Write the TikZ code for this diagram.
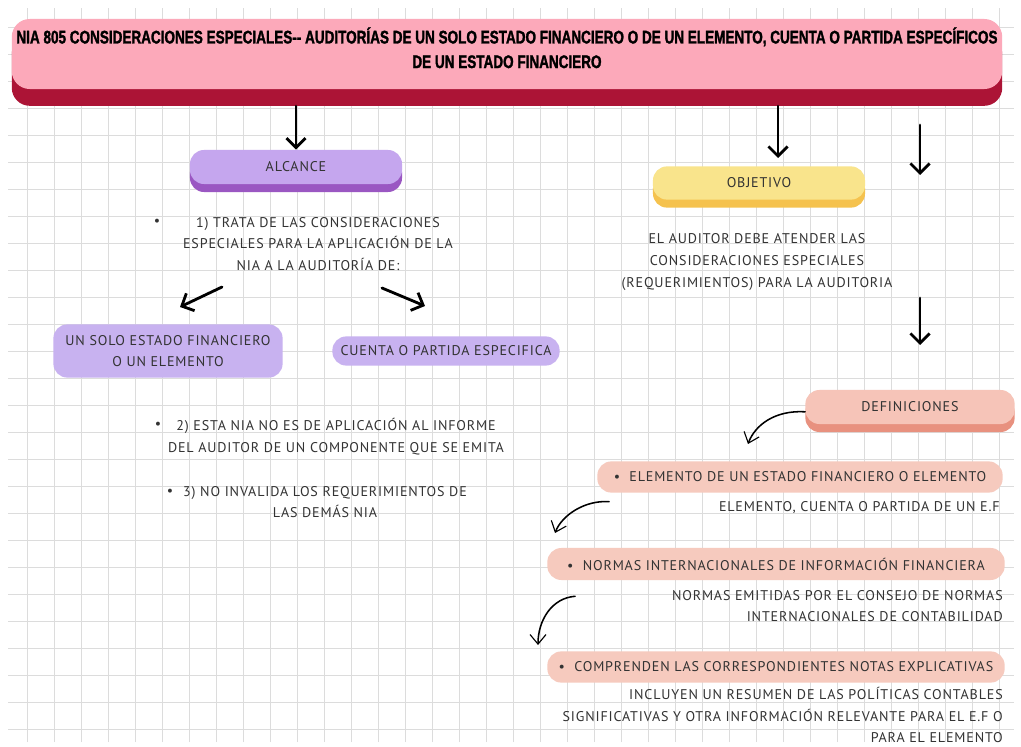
\documentclass[tikz,border=0pt]{standalone}
\usepackage{fontspec}
\setmainfont[LetterSpace=6]{PT Sans}
\newfontfamily\titlefont[FakeStretch=0.74,FakeBold=1.5]{Liberation Sans}
\usetikzlibrary{arrows.meta,shadows,positioning}

\definecolor{gridgray}{HTML}{DCDCDC}
\definecolor{titlepink}{HTML}{FCA9BA}
\definecolor{titlered}{HTML}{AC1436}
\definecolor{lilac}{HTML}{C5A6EE}
\definecolor{lilacdark}{HTML}{9A57C2}
\definecolor{lilaclight}{HTML}{C8B2F0}
\definecolor{sun}{HTML}{F9E48C}
\definecolor{sundark}{HTML}{F5C24E}
\definecolor{salmon}{HTML}{F6C4B8}
\definecolor{salmondark}{HTML}{E8917F}
\definecolor{peach}{HTML}{F6CABE}
\definecolor{ink}{HTML}{333333}

\tikzset{
  tag/.style={rounded corners=0.35cm, text=ink, inner sep=0pt, align=center,
    font=\fontsize{10}{15}\selectfont},
  headbox/.style 2 args={tag, fill=#1, general shadow={fill=#2, shadow yshift=-0.2cm}},
  plainbox/.style={tag, fill=#1},
  note/.style={text=ink, inner sep=0pt, font=\fontsize{10}{15.5}\selectfont},
  bigarrow/.style={line width=2pt, line cap=round, -{Straight Barb[length=2.4mm,width=4.8mm,line width=2pt]}},
  thinarrow/.style={line width=1.1pt, line cap=round, -{Straight Barb[length=2.4mm,width=4mm,line width=0.8pt]}}
}

\begin{document}
\begin{tikzpicture}[x=0.025cm, y=-0.025cm]
  % papel cuadriculado
  \fill[white] (0,0) rectangle (1021,747);
  \useasboundingbox (0,0) rectangle (1021,747);
  \draw[gridgray, line width=0.5pt, step=0.675cm] (8,8) grid (1014,742);

  % titulo
  \node[fill=titlepink, rounded corners=0.45cm, minimum width=24.65cm, minimum height=1.75cm,
        general shadow={fill=titlered, shadow yshift=-0.42cm}, align=center,
        font=\titlefont\bfseries\fontsize{13}{17.5}\selectfont] (title) at (507,54)
    {NIA 805 CONSIDERACIONES ESPECIALES-- AUDITORÍAS DE UN SOLO ESTADO FINANCIERO O DE UN ELEMENTO, CUENTA O PARTIDA ESPECÍFICOS\\
     DE UN ESTADO FINANCIERO\rule[-9pt]{0pt}{1pt}};

  % alcance
  \node[headbox={lilac}{lilacdark}, minimum width=5.3cm, minimum height=0.85cm] (alcance) at (296,167) {ALCANCE};
  \node[note, align=center] (alc1) at (318,244)
    {1) TRATA DE LAS CONSIDERACIONES\\ ESPECIALES PARA LA APLICACIÓN DE LA\\ NIA A LA AUDITORÍA DE:};
  \node[note] (bul1) at (157,222) {•};
  \node[plainbox=lilaclight, minimum width=5.73cm, minimum height=1.33cm] (uno) at (168,351)
    {UN SOLO ESTADO FINANCIERO\\ O UN ELEMENTO};
  \node[plainbox=lilaclight, minimum width=5.68cm, minimum height=0.73cm] (cuenta) at (446,351)
    {CUENTA O PARTIDA ESPECIFICA};
  \node[note, align=center] (alc2) at (336,437)
    {2) ESTA NIA NO ES DE APLICACIÓN AL INFORME\\ DEL AUDITOR DE UN COMPONENTE QUE SE EMITA};
  \node[note] (bul2) at (158,425) {•};
  \node[note, align=center] (alc3) at (325,502)
    {3) NO INVALIDA LOS REQUERIMIENTOS DE\\ LAS DEMÁS NIA};
  \node[note] (bul3) at (170,492) {•};

  % objetivo
  \node[headbox={sun}{sundark}, minimum width=5.3cm, minimum height=0.83cm] (objetivo) at (759,183) {OBJETIVO};
  \node[note, align=center] (obj1) at (757,262)
    {EL AUDITOR DEBE ATENDER LAS\\ CONSIDERACIONES ESPECIALES\\ (REQUERIMIENTOS) PARA LA AUDITORIA};

  % definiciones
  \node[headbox={salmon}{salmondark}, minimum width=5.23cm, minimum height=0.85cm] (defs) at (910,407) {DEFINICIONES};
  \node[plainbox=peach, minimum width=10.13cm, minimum height=0.78cm] (def1) at (800,477)
    {•\ \ ELEMENTO DE UN ESTADO FINANCIERO O ELEMENTO};
  \node[note, anchor=east] (def1t) at (1000,508) {ELEMENTO, CUENTA O PARTIDA DE UN E.F};
  \node[plainbox=peach, minimum width=11.43cm, minimum height=0.8cm] (def2) at (776,564)
    {•\ \ NORMAS INTERNACIONALES DE INFORMACIÓN FINANCIERA};
  \node[note, anchor=east, align=right] (def2t) at (1003,606)
    {NORMAS EMITIDAS POR EL CONSEJO DE NORMAS\\ INTERNACIONALES DE CONTABILIDAD\ };
  \node[plainbox=peach, minimum width=11.43cm, minimum height=0.78cm] (def3) at (776,667)
    {•\ \ COMPRENDEN LAS CORRESPONDIENTES NOTAS EXPLICATIVAS};
  \node[note, anchor=east, align=right] (def3t) at (1003,715)
    {INCLUYEN UN RESUMEN DE LAS POLÍTICAS CONTABLES\\ SIGNIFICATIVAS Y OTRA INFORMACIÓN RELEVANTE PARA EL E.F O\\ PARA EL ELEMENTO};

  % puntos de las flechas
  \coordinate (objtop) at (778,158);
  \coordinate (der1a) at (920,125);
  \coordinate (der1b) at (920,175);
  \coordinate (der2a) at (920,298);
  \coordinate (der2b) at (920,345);
  \coordinate (izqa) at (222,287);
  \coordinate (izqb) at (180,307);
  \coordinate (dera) at (382,288);
  \coordinate (derb) at (425,306);
  \coordinate (tip1) at (748,444);
  \coordinate (tip2) at (555,533);
  \coordinate (tip3) at (538,645);

  % flechas
  \draw[bigarrow] ([yshift=-0.42cm]title.south -| alcance.north) -- (alcance.north);
  \draw[bigarrow] ([yshift=-0.42cm]title.south -| objtop) -- (objtop);
  \draw[bigarrow] (der1a) -- (der1b);
  \draw[bigarrow] (der2a) -- (der2b);
  \draw[bigarrow] (izqa) -- (izqb);
  \draw[bigarrow] (dera) -- (derb);
  \draw[thinarrow] ([yshift=-0.12cm]defs.west) .. controls (775,410) and (755,425) .. (tip1);
  \draw[thinarrow] ([xshift=0.3cm,yshift=-0.22cm]def1.south west) .. controls (585,500) and (562,515) .. (tip2);
  \draw[thinarrow] ([xshift=0.7cm,yshift=-0.4cm]def2.south west) .. controls (552,598) and (538,620) .. (tip3);
\end{tikzpicture}
\end{document}
